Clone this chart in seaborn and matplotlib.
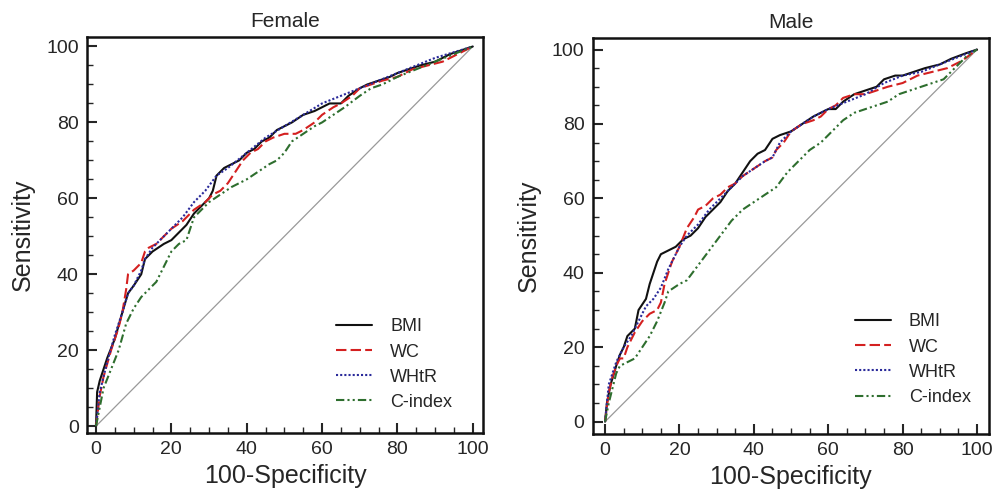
import matplotlib
matplotlib.use("Agg")
import matplotlib.pyplot as plt
import seaborn as sns
import pandas as pd
from matplotlib.ticker import MultipleLocator

sns.set_style("ticks")
plt.rcParams["font.family"] = ["Liberation Sans", "DejaVu Sans"]

# Female ROC curves (100-specificity, sensitivity)
f_bmi_x = [0, 0.3, 1, 3, 5, 7, 8.5, 10, 12, 13, 15, 18, 20, 22, 24, 26, 28, 30, 31, 32, 34, 36, 38, 40,
           42, 44, 46, 48, 50, 52, 55, 58, 60, 62, 65, 67, 70, 72, 75, 78, 80, 83, 86, 90, 94, 97, 100]
f_bmi_y = [0, 9, 12, 18, 23, 30, 35, 37, 40, 44, 46, 48, 49, 51, 53, 56, 58, 60, 62, 66, 68, 69, 70, 72,
           73, 75, 76, 78, 79, 80, 82, 83, 84, 85, 85, 87, 89, 90, 91, 92, 93, 94, 95, 96, 98, 99, 100]
f_wc_x = [0, 1, 2, 4, 6, 7, 8, 8.5, 10, 12, 13, 14, 16, 18, 20, 23, 26, 29, 31, 33, 35, 37, 39, 41,
          43, 45, 47, 50, 53, 55, 58, 60, 63, 65, 68, 70, 73, 76, 80, 84, 88, 92, 96, 100]
f_wc_y = [0, 8, 13, 20, 26, 30, 36, 40, 41, 43, 46, 47, 48, 50, 52, 54, 57, 59, 61, 62, 64, 67, 70, 72,
          73, 75, 76, 77, 77, 78, 80, 82, 84, 85, 87, 89, 90, 91, 92, 94, 95, 96, 98, 100]
f_whtr_x = [0, 1, 3, 5, 7, 8.5, 10, 12, 13, 15, 18, 20, 23, 26, 29, 32, 35, 40, 45, 50, 55, 60, 65,
            70, 75, 80, 85, 90, 95, 100]
f_whtr_y = [0, 9, 17, 24, 30, 35, 37, 41, 44, 47, 50, 52, 55, 59, 62, 66, 68, 72, 76, 79, 82, 85, 87,
            89, 91, 93, 95, 97, 98.5, 100]
f_cidx_x = [0, 1, 2, 4, 6, 8, 10, 12, 14, 16, 18, 20, 22, 24, 26, 28, 30, 33, 36, 40, 43, 46, 48, 50,
            52, 55, 58, 60, 63, 66, 70, 73, 76, 80, 85, 90, 95, 100]
f_cidx_y = [0, 5, 10, 15, 20, 27, 31, 34, 36, 38, 42, 46, 48, 49, 55, 57, 59, 61, 63, 65, 67, 69, 70, 72,
            75, 77, 79, 80, 82, 84, 87, 89, 90, 92, 94, 96, 98, 100]

# Male ROC curves
m_bmi_x = [0, 0.5, 1.5, 3, 4, 5, 6, 8, 9, 11, 12, 13, 14, 15, 17, 19, 21, 23, 25, 27, 29, 31, 33, 35,
           37, 39, 41, 43, 45, 47, 50, 53, 56, 58, 60, 62, 64, 67, 70, 73, 75, 78, 80, 83, 86, 90, 93, 97, 100]
m_bmi_y = [0, 5, 10, 15, 18, 20, 23, 25, 30, 33, 37, 40, 43, 45, 46, 47, 49, 50, 52, 55, 57, 59, 62, 64,
           67, 70, 72, 73, 76, 77, 78, 80, 82, 83, 84, 84, 86, 88, 89, 90, 92, 93, 93, 94, 95, 96, 97.5, 99, 100]
m_wc_x = [0, 1, 2, 3, 4, 5, 6, 8, 10, 12, 14, 15, 16, 18, 20, 22, 24, 25, 27, 29, 31, 33, 35, 37, 40,
          43, 45, 46, 48, 50, 53, 56, 58, 60, 62, 64, 67, 70, 73, 76, 80, 84, 88, 92, 96, 100]
m_wc_y = [0, 8, 12, 15, 17, 17, 20, 24, 27, 29, 30, 32, 37, 43, 47, 52, 55, 57, 58, 60, 61, 63, 64, 66, 68,
          70, 71, 73, 75, 78, 80, 81, 82, 84, 85, 87, 88, 88, 89, 90, 91, 93, 94, 95, 97, 100]
m_whtr_x = [0, 1, 3, 5, 7, 9, 11, 13, 15, 17, 20, 22, 25, 28, 31, 34, 37, 40, 43, 45, 47, 50, 53, 56,
            60, 65, 70, 75, 80, 85, 90, 95, 100]
m_whtr_y = [0, 10, 16, 20, 23, 27, 31, 33, 36, 41, 47, 50, 53, 57, 60, 63, 66, 68, 70, 71, 75, 78, 80, 82,
            84, 86, 88, 91, 93, 94, 96, 98, 100]
m_cidx_x = [0, 1, 2, 3, 4, 6, 8, 10, 12, 14, 16, 17, 20, 22, 25, 28, 31, 34, 37, 40, 43, 46, 49, 52,
            55, 58, 61, 64, 67, 70, 73, 76, 79, 82, 85, 88, 91, 94, 97, 100]
m_cidx_y = [0, 5, 9, 13, 15, 16, 17, 20, 23, 27, 32, 35, 37, 38, 42, 46, 50, 54, 57, 59, 61, 63, 67, 70,
            73, 75, 78, 81, 83, 84, 85, 86, 88, 89, 90, 91, 92, 95, 98, 100]

labels = ["BMI", "WC", "WHtR", "C-index"]
colors = ["#111111", "#d42020", "#2a2a9a", "#2e6e2e"]
styles = ["-", (0, (5, 2)), (0, (1, 1)), (0, (4, 1.5, 1, 1.5, 1, 1.5))]

panels = [
    ("Female", [(f_bmi_x, f_bmi_y), (f_wc_x, f_wc_y), (f_whtr_x, f_whtr_y), (f_cidx_x, f_cidx_y)],
     [0.0867, 0.1235, 0.3948, 0.8016], (-2.4, 102.7), (-1.8, 102.5), (0.963, 0.015)),
    ("Male", [(m_bmi_x, m_bmi_y), (m_wc_x, m_wc_y), (m_whtr_x, m_whtr_y), (m_cidx_x, m_cidx_y)],
     [0.591, 0.1215, 0.395, 0.8016], (-3.3, 103.2), (-3.3, 103.1), (0.995, 0.03)),
]

fig = plt.figure(figsize=(10.03, 4.94), dpi=100)

for title, curves, pos, xlim, ylim, anchor in panels:
    ax = fig.add_axes(pos)
    # reference diagonal
    ax.plot([0, 100], [0, 100], color="#999999", lw=0.9)
    for (xs, ys), lab, col, ls in zip(curves, labels, colors, styles):
        d = pd.DataFrame({"x": xs, "y": ys})
        sns.lineplot(data=d, x="x", y="y", ax=ax, sort=False, estimator=None,
                     color=col, linestyle=ls, lw=1.5, label=lab)
    ax.set_xlim(*xlim)
    ax.set_ylim(*ylim)
    ax.xaxis.set_major_locator(MultipleLocator(20))
    ax.yaxis.set_major_locator(MultipleLocator(20))
    ax.xaxis.set_minor_locator(MultipleLocator(5))
    ax.yaxis.set_minor_locator(MultipleLocator(5))
    ax.tick_params(which="major", direction="in", length=7, width=1.5, labelsize=14, pad=6)
    ax.tick_params(which="minor", direction="in", length=4, width=1.0)
    for sp in ax.spines.values():
        sp.set_linewidth(1.8)
        sp.set_color("#111111")
    ax.set_title(title, fontsize=15, pad=7)
    ax.set_xlabel("100-Specificity", fontsize=18, labelpad=4)
    ax.set_ylabel("Sensitivity", fontsize=18, labelpad=8)
    ax.legend(loc="lower right", bbox_to_anchor=anchor, frameon=False, fontsize=13,
              handlelength=2.0, labelspacing=0.45, handletextpad=1.0)

fig.savefig("out.png", dpi=100)
